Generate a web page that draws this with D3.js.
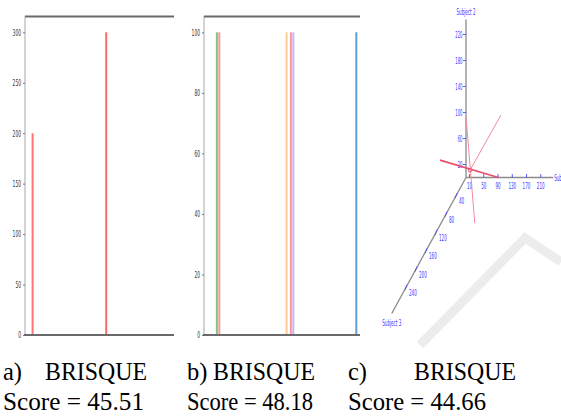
<!DOCTYPE html>
<html>
<head>
<meta charset="utf-8">
<script src="https://cdn.jsdelivr.net/npm/d3@7"></script>
<style>
  body { margin: 0; background: #fff; }
  svg { display: block; }
</style>
</head>
<body>
<div id="chart"></div>
<script>
// a) histogram of pixel values
const binsA = [13, 139];
const countsA = [200, 300];
const ticksA = [0, 50, 100, 150, 200, 250, 300];

// b) histogram, one bar per colour channel group
const binsB = [21, 25, 135, 142, 146, 249];
const countsB = [100, 100, 100, 100, 100, 100];
const ticksB = [0, 20, 40, 60, 80, 100];

// c) 3d scatter of subjects
const ticksS1 = [10, 50, 90, 130, 170, 210];
const ticksS2 = [20, 60, 100, 140, 180, 220];
const ticksS3 = [40, 80, 120, 160, 200, 240];
const segFrom = [[0, 100, 104], [0, 94, 0], [98, 96, 0]];
const segTo = [[91, 0, 0], [95, 0, 100], [38, 38, 38]];
const crossAt = [38, 38, 38];

const captionTags = ["a)", "b)", "c)"];
const captionNames = ["BRISQUE", "BRISQUE", "BRISQUE"];
const captionScores = ["45.51", "48.18", "44.66"];

const paletteA = ["#ff7474", "#ff6868"];
const paletteB = ["#84c284", "#f29c9c", "#ffca96", "#f29c9c", "#cfb2ec", "#5c9fd6"];

const W = 561, H = 419;
let svg = d3.select("#chart").append("svg")
  .attr("width", W)
  .attr("height", H);

//--------------------------------------------------
// watermark in the background
//--------------------------------------------------
svg.append("polyline")
  .attr("points", "420,345 525,238 561,262")
  .attr("fill", "none")
  .attr("stroke", "#ececec")
  .attr("stroke-width", 9);

//--------------------------------------------------
// histogram panels
//--------------------------------------------------
function histPanel(bins, counts, colors, ticks, left, right) {
  let g = svg.append("g");
  let x = d3.scaleLinear().domain([0, 255]).range([left, right]);
  let y = d3.scaleLinear().domain([0, d3.max(ticks)]).range([335, 32.3]);

  // left axis
  g.append("line")
    .attr("x1", left).attr("x2", left)
    .attr("y1", 16.5).attr("y2", 335)
    .attr("stroke", "#a8a8a8").attr("stroke-width", 1);

  let ax = g.append("g")
    .attr("transform", "translate(" + left + ",0)")
    .call(d3.axisLeft(y).tickValues(ticks).tickSize(2).tickPadding(2));
  ax.select(".domain").remove();
  ax.selectAll("line").attr("stroke", "#777");
  ax.selectAll("text")
    .attr("font-family", "DejaVu Sans")
    .attr("font-size", 9)
    .attr("fill", "#333")
    .attr("textLength", d => String(d).length * 2.8)
    .attr("lengthAdjust", "spacingAndGlyphs");

  g.selectAll(".bar")
    .data(bins)
    .enter()
    .append("rect")
    .attr("x", d => x(d) - 1)
    .attr("y", (d, i) => y(counts[i]))
    .attr("width", 2)
    .attr("height", (d, i) => 335 - y(counts[i]))
    .style("fill", (d, i) => colors[i]);

  // frame lines top and bottom
  g.append("line")
    .attr("x1", left).attr("x2", right)
    .attr("y1", 16.5).attr("y2", 16.5)
    .attr("stroke", "#6a6a6a").attr("stroke-width", 1.8);
  g.append("line")
    .attr("x1", left - 1).attr("x2", right)
    .attr("y1", 335).attr("y2", 335)
    .attr("stroke", "#6a6a6a").attr("stroke-width", 1.8);
}

histPanel(binsA, countsA, paletteA, ticksA, 25, 174);
histPanel(binsB, countsB, paletteB, ticksB, 204, 360);

//--------------------------------------------------
// 3d panel
//--------------------------------------------------
let s1 = d3.scaleLinear().domain([0, 100]).range([0, 35.6]);   // to the right
let s2 = d3.scaleLinear().domain([0, 100]).range([0, 65]);     // upwards
let s3 = d3.scaleLinear().domain([0, 100]).range([0, 1]);      // along the diagonal
const O = {x: 466, y: 177.5};
const dirZ = {x: -25, y: 45.8};

function proj(p) {
  return [O.x + s1(p[0]) + s3(p[2]) * dirZ.x,
          O.y - s2(p[1]) + s3(p[2]) * dirZ.y];
}

let g3 = svg.append("g");
let axisEnds = [[245, 0, 0], [0, 243, 0], [0, 0, 297]];
axisEnds.forEach(e => {
  let a = proj([0, 0, 0]), b = proj(e);
  g3.append("line")
    .attr("x1", a[0]).attr("y1", a[1])
    .attr("x2", b[0]).attr("y2", b[1])
    .attr("stroke", "#8a8a8a").attr("stroke-width", 1.3);
});

function tinyText(sel, str, w) {
  sel.text(str)
    .attr("font-family", "DejaVu Sans")
    .attr("font-size", 8)
    .attr("fill", "#3b3bff")
    .attr("textLength", w)
    .attr("lengthAdjust", "spacingAndGlyphs");
}

ticksS1.forEach(t => {
  let p = proj([t, 0, 0]);
  g3.append("line")
    .attr("x1", p[0]).attr("x2", p[0])
    .attr("y1", p[1] - 3.5).attr("y2", p[1])
    .attr("stroke", "#4a4aff").attr("stroke-width", 0.9);
  g3.append("text")
    .attr("x", p[0]).attr("y", p[1] + 11)
    .attr("text-anchor", "middle")
    .call(tinyText, t, String(t).length * 2.6);
});

ticksS2.forEach(t => {
  let p = proj([0, t, 0]);
  g3.append("line")
    .attr("x1", p[0] - 3).attr("x2", p[0])
    .attr("y1", p[1]).attr("y2", p[1])
    .attr("stroke", "#4a4aff").attr("stroke-width", 0.9);
  g3.append("text")
    .attr("x", p[0] - 3.5).attr("y", p[1] + 3)
    .attr("text-anchor", "end")
    .call(tinyText, t, String(t).length * 2.4);
});

ticksS3.forEach(t => {
  let p = proj([0, 0, t]);
  g3.append("line")
    .attr("x1", p[0] - 1).attr("x2", p[0] + 1)
    .attr("y1", p[1] + 2.5).attr("y2", p[1] - 2.5)
    .attr("stroke", "#4a4aff").attr("stroke-width", 0.9);
  g3.append("text")
    .attr("x", p[0] + 3).attr("y", p[1] + 8.5)
    .call(tinyText, t, String(t).length * 2.6);
});

let lbl2 = proj([0, 243, 0]);
g3.append("text").attr("x", lbl2[0]).attr("y", lbl2[1] - 5)
  .attr("text-anchor", "middle").call(tinyText, "Subject 2", 19);
let lbl1 = proj([245, 0, 0]);
g3.append("text").attr("x", lbl1[0] + 1).attr("y", lbl1[1] + 3)
  .call(tinyText, "Subject 1", 19);
let lbl3 = proj([0, 0, 297]);
g3.append("text").attr("x", lbl3[0]).attr("y", lbl3[1] + 12)
  .attr("text-anchor", "middle").call(tinyText, "Subject 3", 19);

segFrom.forEach((a, i) => {
  let p = proj(a), q = proj(segTo[i]);
  g3.append("line")
    .attr("x1", p[0]).attr("y1", p[1])
    .attr("x2", q[0]).attr("y2", q[1])
    .attr("stroke", i == 0 ? "#e8506e" : "#f28aa0")
    .attr("stroke-width", i == 0 ? 1.6 : 1);
});
let cp = proj(crossAt);
g3.append("circle")
  .attr("cx", cp[0]).attr("cy", cp[1]).attr("r", 1.8)
  .attr("fill", "none").attr("stroke", "#e8506e").attr("stroke-width", 1);

//--------------------------------------------------
// captions
//--------------------------------------------------
const cols = [{x0: 3, x1: 147, sw: 141}, {x0: 187, x1: 315, sw: 126}, {x0: 348, x1: 516, sw: 138}];
let cap = svg.append("g")
  .attr("font-family", "'Liberation Serif', 'Times New Roman', serif")
  .attr("font-size", 24.5)
  .attr("fill", "#000");
cols.forEach((c, i) => {
  cap.append("text").attr("x", c.x0).attr("y", 380).text(captionTags[i]);
  cap.append("text").attr("x", c.x1).attr("y", 380)
    .attr("text-anchor", "end")
    .attr("textLength", 102).attr("lengthAdjust", "spacingAndGlyphs")
    .text(captionNames[i]);
  cap.append("text").attr("x", c.x0).attr("y", 410)
    .attr("textLength", c.sw).attr("lengthAdjust", "spacingAndGlyphs")
    .text("Score = " + captionScores[i]);
});
</script>
</body>
</html>
